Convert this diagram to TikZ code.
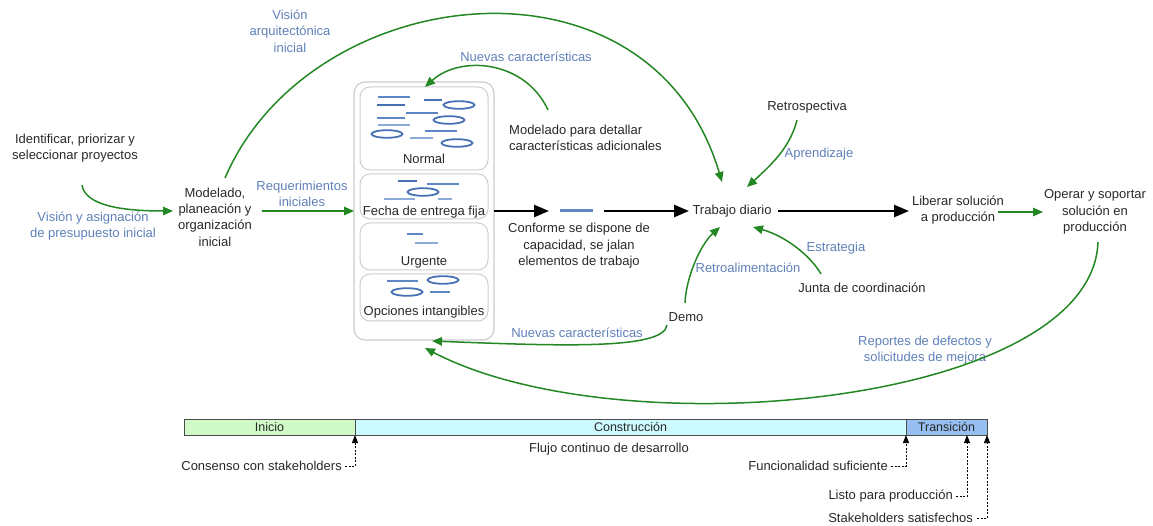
\documentclass[tikz,border=0pt]{standalone}
\usepackage{fontspec}
\setmainfont{Liberation Sans}
\usetikzlibrary{arrows.meta}
\definecolor{gr}{RGB}{35,135,35}
\definecolor{lb}{RGB}{95,128,185}
\definecolor{tx}{RGB}{40,40,40}
\definecolor{ib}{RGB}{70,112,180}
\definecolor{ibm}{RGB}{95,135,200}
\definecolor{ibl}{RGB}{140,170,215}
\definecolor{boxg}{RGB}{205,205,205}
\definecolor{cini}{RGB}{208,250,200}
\definecolor{ccon}{RGB}{205,250,255}
\definecolor{ctra}{RGB}{150,190,240}
\begin{document}
\begin{tikzpicture}[x=1pt,y=-1pt,
  every node/.style={font=\fontsize{13}{16.4}\selectfont, text=tx, inner sep=0pt, align=center},
  lbl/.style={text=lb},
  garrow/.style={draw=gr, line width=1.5pt, -{Triangle[length=10pt,width=8.5pt]}},
  barrow/.style={draw=black, line width=2.6pt, -{Triangle[length=15pt,width=12pt]}},
  outerbox/.style={draw=boxg, line width=1.2pt, rounded corners=11pt},
  innerbox/.style={draw=boxg, line width=1pt, rounded corners=10pt},
  itemd/.style={draw=ib, line width=2.4pt},
  itemm/.style={draw=ibm, line width=1.8pt},
  iteml/.style={draw=ibl, line width=1.6pt},
  itemo/.style={draw=ib, line width=1.8pt},
  phase/.style={draw=black!70, line width=0.8pt, minimum height=16pt, font=\fontsize{12.5}{14}\selectfont},
  ann/.style={draw=black, line width=0.9pt, dash pattern=on 2pt off 1.5pt, -{Triangle[length=8pt,width=6pt]}},
  annt/.style={font=\fontsize{13}{15}\selectfont}
]
\useasboundingbox (0,0) rectangle (1153,526);

% ---------- text nodes ----------
\node (ident) at (75,148) {Identificar, priorizar y\\seleccionar proyectos};
\node[lbl] (visasig) at (93,226) {Visión y asignación\\de presupuesto inicial};
\node (model) at (215,217) {Modelado,\\planeación y\\organización\\inicial};
\node[lbl] (req) at (302,194) {Requerimientos\\iniciales};
\node[lbl] (visarq) at (290,31) {Visión\\arquitectónica\\inicial};
\node[lbl] (nuevas1) at (526,57) {Nuevas características};
\node[align=left, anchor=west] (detallar) at (509,138) {Modelado para detallar\\características adicionales};
\node (conforme) at (579,246) {Conforme se dispone de\\capacidad, se jalan\\elementos de trabajo};
\node (trabajo) at (732,211) {Trabajo diario};
\node (retro) at (807,107) {Retrospectiva};
\node[lbl] (aprend) at (819,154) {Aprendizaje};
\node[lbl] (estrat) at (836,248) {Estrategia};
\node (junta) at (862,288) {Junta de coordinación};
\node[lbl] (retroal) at (748,268) {Retroalimentación};
\node (demo) at (686,317) {Demo};
\node[lbl] (nuevas2) at (577,333) {Nuevas características};
\node (liberar) at (958,210) {Liberar solución\\a producción};
\node (operar) at (1095,212) {Operar y soportar\\solución en\\producción};
\node[lbl] (reportes) at (925,350) {Reportes de defectos y\\solicitudes de mejora};

% ---------- backlog ----------
\draw[outerbox] (354,82) rectangle (494,340);
\coordinate (bl-w) at (354,211);
\coordinate (bl-e) at (494,211);
\draw[innerbox] (360,87) rectangle (488,170);
\draw[innerbox] (360,174) rectangle (488,219);
\draw[innerbox] (360,223) rectangle (488,270);
\draw[innerbox] (360,274) rectangle (488,321);
\node (normal) at (424,159) {Normal};
\node (fecha) at (424,212) {Fecha de entrega fija};
\node (urgente) at (424,262) {Urgente};
\node (opciones) at (424,312) {Opciones intangibles};

% items: Normal
\draw[itemm] (378,97) -- (410,97);
\draw[itemd] (377,105) -- (405,105);
\draw[itemd] (424,100) -- (442,100);
\draw[itemo] (459,105) ellipse [x radius=15.5pt, y radius=3.8pt];
\draw[itemm] (406,113) -- (438,113);
\draw[itemm] (377,118) -- (405,118);
\draw[iteml] (378,125) -- (410,125);
\draw[itemo] (449,120) ellipse [x radius=15.5pt, y radius=3.8pt];
\draw[itemo] (387,134) ellipse [x radius=15.5pt, y radius=3.8pt];
\draw[itemm] (425,131) -- (457,131);
\draw[iteml] (410,138) -- (433,138);
\draw[itemo] (457,143) ellipse [x radius=15.5pt, y radius=3.8pt];
% items: Fecha
\draw[itemd] (398,181) -- (417,181);
\draw[itemm] (427,184) -- (459,184);
\draw[itemo] (423,192) ellipse [x radius=15.5pt, y radius=3.8pt];
\draw[iteml] (384,199) -- (415,199);
\draw[iteml] (438,199) -- (452,199);
% items: Urgente
\draw[itemm] (407,234) -- (423,234);
\draw[iteml] (415,243) -- (438,243);
% items: Opciones
\draw[itemm] (387,281) -- (418,281);
\draw[itemo] (443,280) ellipse [x radius=15.5pt, y radius=3.8pt];
\draw[itemo] (407,292) ellipse [x radius=15.5pt, y radius=3.8pt];
\draw[itemm] (430,292) -- (450,292);

% ---------- main flow ----------
\coordinate (pull-a) at (549,211);
\coordinate (pull-b) at (604,211);
\draw[barrow] (bl-e) -- (pull-a);
\draw[draw=ibm, line width=3pt] (560,211) -- (593,211);
\coordinate (trab-w) at (689,211);
\coordinate (trab-e) at (778,211);
\coordinate (lib-w) at (909,211);
\draw[barrow] (pull-b) -- (trab-w);
\draw[barrow] (trab-e) -- (lib-w);

% ---------- green connectors ----------
\coordinate (ident-s) at (82,185);
\coordinate (model-w) at (173,211);
\coordinate (model-e) at (262,211);
\coordinate (model-n) at (225,178);
\coordinate (trab-n) at (722,182);
\coordinate (trab-ne) at (747,187);
\coordinate (trab-s) at (720,227);
\coordinate (trab-se) at (753,227);
\coordinate (retro-s) at (797,120);
\coordinate (junta-n) at (821,274);
\coordinate (demo-n) at (685,303);
\coordinate (demo-sw) at (667,325);
\coordinate (det-n) at (548,110);
\coordinate (bl-n) at (425,87);
\coordinate (bl-s1) at (432,341);
\coordinate (bl-s2) at (425,348);
\coordinate (lib-e) at (998,212);
\coordinate (op-w) at (1043,212);
\coordinate (op-s) at (1098,242);

\draw[garrow] (ident-s) .. controls (85,205) and (120,211) .. (model-w);
\draw[garrow] (model-e) -- (bl-w);
\draw[garrow] (model-n) .. controls (310,-20) and (650,-60) .. (trab-n);
\draw[garrow] (det-n) .. controls (525,60) and (460,55) .. (bl-n);
\draw[garrow] (retro-s) .. controls (790,148) and (770,166) .. (trab-ne);
\draw[garrow] (junta-n) .. controls (810,255) and (785,236) .. (trab-se);
\draw[garrow] (demo-n) .. controls (686,278) and (700,245) .. (trab-s);
\draw[garrow] (demo-sw) .. controls (664,350) and (560,346) .. (bl-s1);
\draw[garrow] (lib-e) -- (op-w);
\draw[garrow] (op-s) .. controls (1092,405) and (620,450) .. (bl-s2);

% ---------- phase bar ----------
\node[phase, fill=cini, minimum width=171pt] (inicio) at (269.5,427) {Inicio};
\node[phase, fill=ccon, minimum width=551pt] (constr) at (630.5,427) {Construcción};
\node[phase, fill=ctra, minimum width=81pt] (trans) at (946.5,427) {Transición};
\node[annt] (flujo) at (609,449) {Flujo continuo de desarrollo};

\node[annt, anchor=east] (consenso) at (342,466) {Consenso con stakeholders};
\node[annt, anchor=east] (funcional) at (888,466) {Funcionalidad suficiente};
\node[annt, anchor=east] (listo) at (953,496) {Listo para producción};
\node[annt, anchor=east] (satisf) at (973,518) {Stakeholders satisfechos};
\coordinate (m1) at (355,435);
\coordinate (m2) at (906,435);
\coordinate (m3) at (967,435);
\coordinate (m4) at (987,435);
\draw[ann] ([xshift=3pt]consenso.east) -| (m1);
\draw[ann] ([xshift=3pt]funcional.east) -| (m2);
\draw[ann] ([xshift=3pt]listo.east) -| (m3);
\draw[ann] ([xshift=4pt]satisf.east) -| (m4);
\end{tikzpicture}
\end{document}
